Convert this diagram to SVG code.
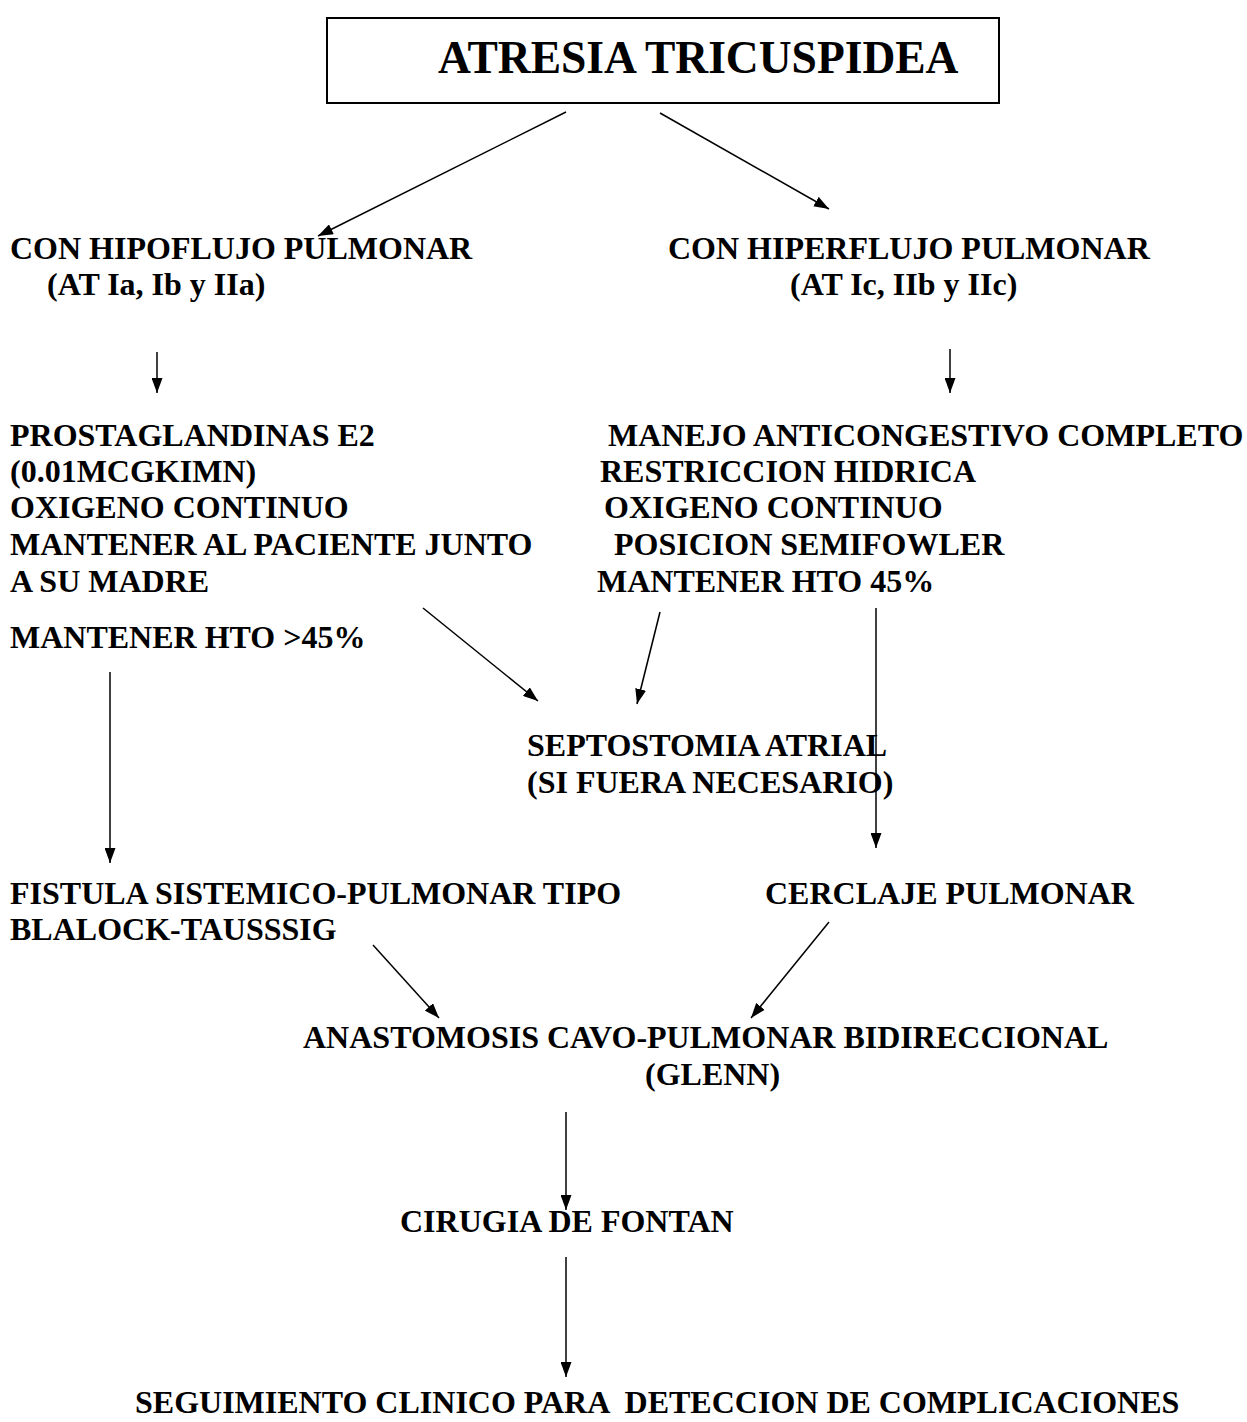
<svg xmlns="http://www.w3.org/2000/svg" width="1247" height="1422" viewBox="0 0 1247 1422">
  <style>
    .t { font-family: "Liberation Serif", "Times New Roman", serif; font-weight: bold; font-size: 32px; fill: #000; }
    .title { font-size: 45.5px; }
    .box { fill: #fff; stroke: #000; stroke-width: 2; }
    .edge { stroke: #000; stroke-width: 1.5; fill: none; marker-end: url(#arrow); }
  </style>
  <defs>
    <marker id="arrow" markerUnits="userSpaceOnUse" markerWidth="16" markerHeight="11" refX="15" refY="5.5" orient="auto">
      <path d="M0,0 L15,5.5 L0,11 Z" fill="#000"/>
    </marker>
  </defs>
  <rect width="1247" height="1422" fill="#fff"/>

  <g id="atresia-tricuspidea">
    <rect class="box" x="327" y="18" width="672" height="85"/>
    <text class="t title" x="438" y="73">ATRESIA TRICUSPIDEA</text>
  </g>

  <g id="hipoflujo">
    <text class="t" x="10" y="259">CON HIPOFLUJO PULMONAR</text>
    <text class="t" x="47" y="295">(AT Ia, Ib y IIa)</text>
  </g>

  <g id="hiperflujo">
    <text class="t" x="668" y="259">CON HIPERFLUJO PULMONAR</text>
    <text class="t" x="790" y="295">(AT Ic, IIb y IIc)</text>
  </g>

  <g id="manejo-hipoflujo">
    <text class="t" x="10" y="446">PROSTAGLANDINAS E2</text>
    <text class="t" x="10" y="482">(0.01MCGKIMN)</text>
    <text class="t" x="10" y="518">OXIGENO CONTINUO</text>
    <text class="t" x="10" y="555">MANTENER AL PACIENTE JUNTO</text>
    <text class="t" x="10" y="592">A SU MADRE</text>
    <text class="t" x="10" y="648">MANTENER HTO &gt;45%</text>
  </g>

  <g id="manejo-hiperflujo">
    <text class="t" x="608" y="446">MANEJO ANTICONGESTIVO COMPLETO</text>
    <text class="t" x="600" y="482">RESTRICCION HIDRICA</text>
    <text class="t" x="604" y="518">OXIGENO CONTINUO</text>
    <text class="t" x="614" y="555">POSICION SEMIFOWLER</text>
    <text class="t" x="597" y="592">MANTENER HTO 45%</text>
  </g>

  <g id="septostomia">
    <text class="t" x="527" y="756">SEPTOSTOMIA ATRIAL</text>
    <text class="t" x="527" y="793">(SI FUERA NECESARIO)</text>
  </g>

  <g id="fistula">
    <text class="t" x="10" y="904">FISTULA SISTEMICO-PULMONAR TIPO</text>
    <text class="t" x="10" y="940">BLALOCK-TAUSSSIG</text>
  </g>

  <g id="cerclaje">
    <text class="t" x="765" y="904">CERCLAJE PULMONAR</text>
  </g>

  <g id="glenn">
    <text class="t" x="303" y="1048">ANASTOMOSIS CAVO-PULMONAR BIDIRECCIONAL</text>
    <text class="t" x="645" y="1085">(GLENN)</text>
  </g>

  <g id="fontan">
    <text class="t" x="400" y="1232">CIRUGIA DE FONTAN</text>
  </g>

  <g id="seguimiento">
    <text class="t" x="135" y="1413" xml:space="preserve">SEGUIMIENTO CLINICO PARA  DETECCION DE COMPLICACIONES</text>
  </g>

  <g id="connectors">
    <line class="edge" x1="566" y1="112" x2="318" y2="236"/>
    <line class="edge" x1="660" y1="113" x2="829" y2="209"/>
    <line class="edge" x1="157" y1="352" x2="157" y2="393"/>
    <line class="edge" x1="950" y1="349" x2="950" y2="393"/>
    <line class="edge" x1="423" y1="608" x2="538" y2="701"/>
    <line class="edge" x1="660" y1="612" x2="637" y2="704"/>
    <line class="edge" x1="876" y1="608" x2="876" y2="848"/>
    <line class="edge" x1="110" y1="672" x2="110" y2="863"/>
    <line class="edge" x1="373" y1="945" x2="439" y2="1018"/>
    <line class="edge" x1="829" y1="922" x2="751" y2="1018"/>
    <line class="edge" x1="566" y1="1112" x2="566" y2="1210"/>
    <line class="edge" x1="566" y1="1257" x2="566" y2="1377"/>
  </g>
</svg>
